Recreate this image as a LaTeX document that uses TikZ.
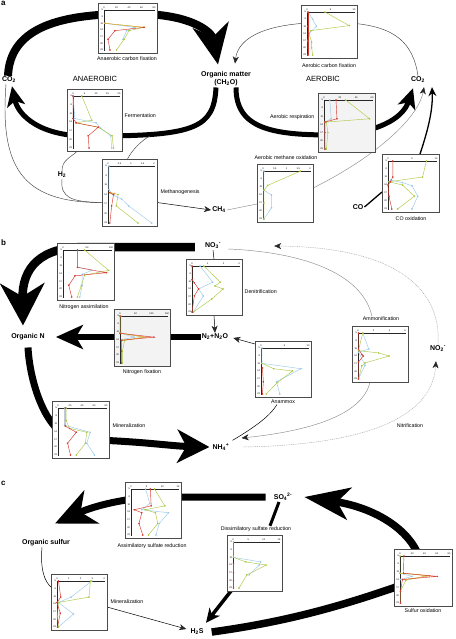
\documentclass[tikz,border=0pt]{standalone}
\usepackage{fontspec}
\setmainfont{Liberation Sans}
\usetikzlibrary{arrows.meta}
\pgfdeclarelayer{bg}
\pgfsetlayers{bg,main}
\definecolor{cred}{HTML}{D63A2F}
\definecolor{cblue}{HTML}{9ACBEA}
\definecolor{cgreen}{HTML}{ADC944}
\definecolor{corange}{HTML}{E9A23A}
\definecolor{cgrayfill}{HTML}{F3F3F3}
\newcommand\pltbegin[7]{%
  \node[pframe, fill=#6, minimum width=#4pt, minimum height=#5pt, anchor=north west] (#1) at (#2,#3) {};
  \begin{scope}[shift={(#2,#3)}]
  \pgfmathsetmacro\axw{#4-9}\pgfmathsetmacro\rowh{(#5-10)/6}
  \draw[axisline] (6,7) -- ({#4-3},7);
  \draw[axisline] (6,7) -- (6,{#5-3});
  \foreach \tkf/\tkl in {#7} {\draw[axisline] ({6+\tkf*\axw},7) -- ({6+\tkf*\axw},8);
    \node[tickl] at ({6+\tkf*\axw},4.3) {\tkl};}
  \foreach \dd [count=\ii from 0] in {5,8,11,14,17,20,23} {
    \node[tickl, anchor=east] at (5.2,{7+\ii*\rowh}) {\dd};
    \draw[axisline] (6,{7+\ii*\rowh}) -- (7,{7+\ii*\rowh});}
  \begin{scope}[shift={(6,7)}, x={(\axw pt,0pt)}, y={(0pt,-\rowh pt)}]
}
\newcommand\pltend{\end{scope}\end{scope}}
\newcommand\pltser[2]{\draw[#1] plot coordinates {#2};}
\begin{document}
\begin{tikzpicture}[x=1pt,y=-1pt,
  lab/.style={font=\fontsize{7}{8}\selectfont\bfseries, inner sep=1pt, align=center},
  biglab/.style={font=\fontsize{7.5}{8.5}\selectfont, inner sep=1pt},
  panel/.style={font=\fontsize{8}{9}\selectfont\bfseries, inner sep=0pt, anchor=north west},
  plab/.style={font=\fontsize{5.3}{6}\selectfont, inner sep=0.5pt},
  pframe/.style={draw=black!70, line width=0.85pt, inner sep=0pt, outer sep=0pt},
  axisline/.style={draw=black!85, line width=0.3pt},
  tickl/.style={font=\fontsize{2.4}{2.6}\selectfont, inner sep=0pt},
  sr/.style={draw=cred, line width=0.45pt, mark=*, mark size=0.55pt, mark options={fill=cred, draw=cred}},
  sb/.style={draw=cblue, line width=0.45pt, mark=*, mark size=0.55pt, mark options={fill=cblue, draw=cblue}},
  sg/.style={draw=cgreen, line width=0.45pt, mark=*, mark size=0.55pt, mark options={fill=cgreen, draw=cgreen}},
  so/.style={draw=corange, line width=0.45pt, mark=*, mark size=0.55pt, mark options={fill=corange, draw=corange}},
  hugeA/.style={-{Stealth[length=40pt,width=36pt,inset=12pt]}},
  bigA/.style={-{Stealth[length=32pt,width=33pt,inset=9pt]}},
  nfixA/.style={-{Stealth[length=27pt,width=24pt,inset=7pt]}},
  medA/.style={-{Stealth[length=20pt,width=18pt,inset=5pt]}},
  smA/.style={-{Stealth[length=7pt,width=6pt,inset=2pt,color=black!85]}},
  blackthin/.style={draw=black, line width=0.5pt},
  thinline/.style={draw=black!75, line width=0.45pt},
  grayline/.style={draw=black!45, line width=0.45pt},
  dotline/.style={draw=black!35, line width=0.45pt, dash pattern=on 1pt off 0.8pt}]
\useasboundingbox (0,0) rectangle (455,639);

% ---------------- panel a ----------------
\node[panel] (pa) at (1,1) {a};
\node[lab] (co2L) at (9,80) {CO\textsubscript{2}};
\node[biglab] (anaer) at (95,79) {ANAEROBIC};
\node[lab] (om) at (226,79) {Organic matter\\(CH\textsubscript{2}O)};
\node[biglab] (aer) at (323,79) {AEROBIC};
\node[lab] (co2R) at (418,80) {CO\textsubscript{2}};
\node[lab] (h2) at (62,175) {H\textsubscript{2}};
\node[lab] (ch4) at (219,210) {CH\textsubscript{4}};
\node[lab] (co) at (358,207) {CO};

\pltbegin{acf}{98}{3}{59}{50}{white}{0/0,0.25/20,0.5/40,0.75/60,1/80}
 \pltser{sb}{(0.02,2) (0.62,2.6) (0.45,3.1) (0.38,4.4)}
 \pltser{sg}{(0.02,2) (0.8,2.6) (0.5,3.1) (0.4,4.4) (0.25,6)}
 \pltser{so}{(0.02,2) (0.8,2.6)}
 \pltser{sr}{(0.8,2.6) (0.22,3.1) (0.08,4.4) (0.12,6)}
\pltend
\node[plab] (acflab) at (127,59) {Anaerobic carbon fixation};

\pltbegin{acfA}{301}{5}{56}{53}{white}{0/0,0.5/5,1/10}
 \pltser{sb}{(0.02,0) (0.12,1) (0.2,2) (0.04,3) (0.02,4) (0.03,6)}
 \pltser{sg}{(0.38,0) (0.9,1.9) (0.08,2.6) (0.04,3) (0.1,4.2) (0.1,5) (0.12,6)}
 \pltser{sr}{(0.02,0) (0.02,2) (0.02,4) (0.02,6)}
\pltend
\node[plab] (acfAlab) at (329,66) {Aerobic carbon fixation};

\pltbegin{ferm}{67}{89}{55}{62}{white}{0/0,0.25/5,0.5/10,0.75/15,1/20}
 \pltser{sb}{(0,0) (0.04,2.6) (0.5,3.1) (0.6,3.7) (0.82,4.6) (0.84,6)}
 \pltser{sg}{(0.19,0) (0.41,2.8) (0.06,3.1) (0.55,3.6) (0.85,4.6) (0.88,6)}
 \pltser{sr}{(0,0) (0,2.6) (0.07,3.1) (0.55,3.6) (0.33,4.6) (0.35,6)}
\pltend
\node[plab, anchor=west] (fermlab) at (124,116) {Fermentation};

\pltbegin{meth}{102}{159}{55}{67}{white}{0/0,0.25/0.5,0.5/1,0.75/1.5,1/2}
 \pltser{sb}{(0.02,0) (0.02,2.5) (0.1,3) (0.3,3.5) (0.45,4.2) (0.95,6)}
 \pltser{sg}{(0.05,2.8) (0.22,3) (0.18,4.2) (0.65,6)}
 \pltser{so}{(0.05,2.8) (0.14,2.9)}
 \pltser{sr}{(0.03,2.8) (0.12,3) (0.08,4.2) (0.04,6)}
\pltend
\node[plab, anchor=west] (methlab) at (160,192) {Methanogenesis};

\pltbegin{resp}{318}{93}{57}{59}{cgrayfill}{0/0,0.33/20,0.67/40,1/60}
 \pltser{sb}{(0.12,0) (0.15,2.3) (0.02,2.7) (0.02,6)}
 \pltser{sg}{(0.45,0) (0.95,2.3) (0.05,2.7) (0.08,4) (0.05,6)}
 \pltser{sr}{(0.25,0) (0.27,2.3) (0.02,2.7) (0.02,4) (0.02,6)}
\pltend
\node[plab, anchor=east] (resplab) at (315,117) {Aerobic respiration};

\pltbegin{mox}{257}{164}{56}{58}{white}{0/0,0.25/0.5,0.5/1,0.75/1.5,1/2}
 \pltser{sb}{(0.02,0) (0.02,2.4) (0.18,3) (0.18,4.6) (0.02,6)}
 \pltser{sg}{(0.8,0) (0.1,1.8) (0.02,2.4) (0.02,4) (0.02,6)}
\pltend
\node[plab] (moxlab) at (286,158) {Aerobic methane oxidation};

\pltbegin{coox}{382}{154}{57}{58}{white}{0/0,0.5/5,1/10}
 \pltser{sb}{(0.05,2.4) (0.3,2.7) (0.5,3.1) (0.62,4.4) (0.5,6)}
 \pltser{sg}{(0.8,0) (0.72,2) (0.02,2.6) (0.3,3) (0.55,4.4) (0.2,6)}
 \pltser{sr}{(0.1,0) (0.1,2) (0.05,2.6) (0,3) (0.02,4.4) (0.08,6)}
\pltend
\node[plab] (cooxlab) at (411,219) {CO oxidation};

% ---------------- panel b ----------------
\node[panel] (pb) at (1,240) {b};
\node[lab] (no3) at (213,246) {NO\textsubscript{3}\textsuperscript{-}};
\node[lab] (orgN) at (28,337) {Organic N};
\node[lab] (n2) at (215,337) {N\textsubscript{2}+N\textsubscript{2}O};
\node[lab] (no2) at (438,349) {NO\textsubscript{2}\textsuperscript{-}};
\node[lab] (nh4) at (221,447) {NH\textsubscript{4}\textsuperscript{+}};

\pltbegin{nassim}{57}{243}{57}{57}{white}{0/0,0.5/50,1/100}
 \pltser{sb}{(0.3,0) (0.3,2.2) (0.6,2.6) (0.4,3.1) (0.4,4.5) (0.35,6)}
 \pltser{sg}{(0.45,0) (0.95,2.6) (0.45,3.2) (0.38,4.6) (0.3,6)}
 \pltser{sr}{(0.3,0) (0.3,2.2) (0.9,2.9) (0.25,3.3) (0.12,4.5) (0.18,6)}
\pltend
\node[plab] (nassimlab) at (84,307) {Nitrogen assimilation};

\pltbegin{denit}{186}{259}{56}{56}{white}{0/0,0.33/1,0.67/2,1/3}
 \pltser{sb}{(0.17,0) (0.44,2.1) (0.14,3) (0.24,3.9) (0.03,6)}
 \pltser{sg}{(0.25,0) (0.6,2.1) (0.49,2.6) (0.66,3) (0.42,4.3) (0.03,6)}
 \pltser{sr}{(0,0) (0,1.8) (0.05,2.2) (0.14,3) (0.05,3.9) (0,6)}
\pltend
\node[plab, anchor=west] (denitlab) at (244,292) {Denitrification};

\pltbegin{nfix}{114}{309}{56}{57}{cgrayfill}{0/0,0.33/50,0.67/100,1/150}
 \pltser{sb}{(0.02,2.2) (0.3,2.7) (0.05,3)}
 \pltser{sg}{(0.02,0) (0.02,2.2) (0.5,2.7) (0.1,3.1) (0.05,4.5) (0.05,6)}
 \pltser{so}{(0,2.2) (0.55,2.7) (0.05,3.1)}
 \pltser{sr}{(0,0) (0,2.2) (0.72,2.7) (0.03,3.1) (0.03,4.5) (0.03,6)}
\pltend
\node[plab] (nfixlab) at (142,372) {Nitrogen fixation};

\pltbegin{anam}{255}{341}{56}{56}{white}{0/0,0.5/5,1/10}
 \pltser{sb}{(0.02,0) (0.02,2) (0.85,2.7) (0.33,4.4) (0.4,6)}
 \pltser{sg}{(0.02,2) (0.27,2.7) (0.67,3) (0.35,4.5) (0.11,6)}
 \pltser{sr}{(0.03,2.6) (0.05,4.4) (0.03,6)}
\pltend
\node[plab] (anamlab) at (283,402) {Anammox};

\pltbegin{amm}{352}{326}{56}{56}{white}{0/0,0.33/2,0.67/4,1/6}
 \pltser{sb}{(0.1,0) (0.23,2.1) (0.01,2.5) (0.15,4.2) (0.01,6)}
 \pltser{sg}{(0.1,0) (0.01,2.3) (0.44,2.6) (0.66,3) (0.15,3.9) (0.08,4.3) (0.01,6)}
 \pltser{sr}{(0.01,0) (0.01,2.1) (0.08,2.8) (0.11,3) (0.01,3.8) (0.01,6)}
\pltend
\node[plab] (amlab) at (381,319) {Ammonification};

\pltbegin{nmin}{52}{401}{57}{57}{white}{0/0,0.25/20,0.5/40,0.75/60,1/80}
 \pltser{sb}{(0.14,0) (0.14,2.2) (0.67,3.1) (0.6,4.5) (0.76,6)}
 \pltser{sg}{(0.17,0) (0.17,1.6) (0.24,2.6) (0.6,3.1) (0.57,4.5) (0.38,6)}
 \pltser{sr}{(0.15,0) (0.15,2.3) (0.38,3.1) (0.2,4.5) (0.26,6)}
\pltend
\node[plab, anchor=west] (nminlab) at (112,426) {Mineralization};
\node[plab] (nitrlab) at (410,426) {Nitrification};

% ---------------- panel c ----------------
\node[panel] (pc) at (1,481) {c};
\node[lab] (so4) at (283,497) {SO\textsubscript{4}\textsuperscript{2-}};
\node[lab] (orgS) at (46,543) {Organic sulfur};
\node[lab] (h2s) at (197,632) {H\textsubscript{2}S};

\pltbegin{asr}{125}{482}{56}{56}{white}{0/0,0.33/5,0.67/10,1/15}
 \pltser{sb}{(0.31,0) (0.4,1.9) (0.23,2.7) (0.8,3.1) (0.6,4.5) (0.53,6)}
 \pltser{sg}{(0.5,0) (0.72,2.2) (0.3,2.7) (0.52,3.1) (0.57,4.5) (0.37,6)}
 \pltser{sr}{(0.41,0) (0.43,2.2) (0.07,2.7) (0.23,3.1) (0.17,4.5) (0.25,6)}
\pltend
\node[plab] (asrlab) at (152,546) {Assimilatory sulfate reduction};

\pltbegin{dsr}{227}{535}{55}{56}{white}{0/0,0.33/5,0.67/10,1/15}
 \pltser{sb}{(0.01,2) (0.6,2.6) (0.57,3) (0.35,4.3)}
 \pltser{sg}{(0.01,0) (0.01,2) (0.28,2.6) (0.72,3) (0.3,4.3) (0.13,6)}
 \pltser{sr}{(0.01,2.8) (0.01,4) (0.01,5) (0.01,6)}
\pltend
\node[plab] (dsrlab) at (256,529) {Dissimilatory sulfate reduction};

\pltbegin{smin}{51}{574}{56}{56}{white}{0/0,0.25/1,0.5/2,0.75/3,1/4}
 \pltser{sb}{(0.74,0) (0.3,2.1) (0.03,2.8) (0.35,4.3) (0.03,6)}
 \pltser{sg}{(0.71,0) (0.68,2.1) (0.03,2.8) (0.01,4.6) (0.03,6)}
 \pltser{sr}{(0.03,0) (0.08,2.1) (0,2.8) (0.07,4.2) (0.01,6)}
\pltend
\node[plab, anchor=west] (sminlab) at (110,602) {Mineralization};

\pltbegin{sox}{394}{549}{58}{57}{white}{0/0,0.25/20,0.5/40,0.75/60,1/80}
 \pltser{sb}{(0,2.2) (0.25,2.6) (0.01,3)}
 \pltser{sg}{(0,0) (0,2.2) (0.56,2.5) (0.12,3.1) (0.01,4.5) (0.01,6)}
 \pltser{so}{(0.07,2.2) (0.6,2.55) (0.1,3)}
 \pltser{sr}{(0.08,0) (0.07,2.2) (0.76,2.6) (0.05,3) (0.01,4.5) (0.01,6)}
\pltend
\node[plab] (soxlab) at (423,611) {Sulfur oxidation};

% ---------------- connectors ----------------
\begin{pgfonlayer}{bg}
\coordinate (fjoin) at (150,136);
% panel a
\draw[line width=8pt, hugeA] ([xshift=-1pt]co2L.north) .. controls (10,30) and (55,14) .. ([yshift=-11pt]acf.north) .. controls (190,12) and (212,32) .. ([xshift=-8pt,yshift=6pt]om.north);
\draw[line width=5pt, medA] ([xshift=-10pt]om.south) .. controls (214,128) and (195,136) .. ([yshift=-16pt]ferm.center) .. controls (40,138) and (18,115) .. ([xshift=3pt,yshift=-2pt]co2L.south);
\draw[line width=5pt, medA] ([xshift=10pt]om.south) .. controls (236,128) and (270,137) .. ([yshift=-12pt]resp.center) .. controls (392,128) and (405,112) .. ([xshift=-5pt,yshift=-4pt]co2R.south);
\draw[thinline, smA] (co2R.north) .. controls (412,35) and (385,22) .. ([yshift=9pt]acfA.center) .. controls (265,22) and (238,38) .. ([xshift=9pt,yshift=7pt]om.north);
\draw[thinline] (fjoin) .. controls (142,140) and (132,150) .. ([xshift=-2pt]meth.north);
\draw[thinline] ([xshift=-17pt]ferm.south) .. controls (70,158) and (62,160) .. (h2.north);
\draw[thinline] (h2.south) .. controls (60,198) and (72,202) .. ([yshift=-10pt]meth.west);
\draw[thinline] ([xshift=-3pt]co2L.south) .. controls (0,165) and (20,203) .. ([yshift=-10pt]meth.west);
\draw[blackthin, smA] ([yshift=-10pt]meth.east) -- (ch4.west);
\draw[grayline] (ch4.east) -- ([yshift=-11pt]mox.west);
\draw[grayline, smA] ([yshift=5pt]mox.east) .. controls (370,160) and (418,120) .. ([xshift=6pt,yshift=-3pt]co2R.south);
\draw[line width=1.3pt] (co.east) -- ([yshift=-9pt]coox.west);
\draw[line width=1.3pt, -{Stealth[length=9pt,width=8pt,inset=3pt]}] ([xshift=9.5pt]coox.north) .. controls (428,130) and (433,110) .. ([xshift=14pt,yshift=-3pt]co2R.south);
% panel b
\draw[line width=8.5pt, -{Stealth[length=42pt,width=44pt,inset=13pt]}] ([xshift=-9pt,yshift=-1pt]no3.west) -- ([yshift=-4pt]nassim.north) .. controls (40,247) and (22,268) .. ([xshift=-5pt,yshift=7pt]orgN.north);
\draw[blackthin] (no3.south) -- (denit.north);
\draw[blackthin, smA] (denit.south) -- (n2.north);
\draw[line width=5.5pt, nfixA] (n2.west) -- ([xshift=10pt]orgN.east);
\draw[line width=7pt, bigA] ([yshift=-6pt]orgN.south) .. controls (30,385) and (48,440) .. ([yshift=-10pt]nmin.center) .. controls (140,441) and (170,446) .. ([xshift=-2pt]nh4.west);
\draw[blackthin] ([xshift=2pt,yshift=2pt]nh4.north east) .. controls (255,427) and (270,416) .. ([xshift=-6pt]anamlab.south);
\draw[blackthin, smA] ([yshift=-3pt]anam.north west) -- ([xshift=4pt,yshift=-1pt]n2.east);
\draw[grayline] ([xshift=6pt,yshift=-3pt]no3.east) .. controls (300,252) and (362,272) .. ([xshift=-9pt]amlab.north);
\draw[grayline, smA] ([xshift=-10pt]amm.south) .. controls (362,418) and (300,432) .. ([xshift=11pt,yshift=9pt]nh4.east);
\draw[dotline, smA] ([xshift=12pt]nh4.east) .. controls (360,445) and (432,420) .. ([xshift=-2pt,yshift=-8pt]no2.south);
\draw[dotline, smA] (no2.north) .. controls (442,285) and (390,247) .. ([xshift=52pt]no3.east);
% panel c
\draw[line width=7pt, hugeA] ([xshift=-7pt]so4.west) -- ([yshift=13pt]asr.center) .. controls (110,500) and (85,510) .. ([xshift=9pt,yshift=15pt]orgS.north);
\draw[line width=3pt] ([xshift=-4pt]so4.south) -- ([xshift=14pt]dsrlab.north);
\draw[line width=3.5pt, -{Stealth[length=14pt,width=13pt,inset=4pt]}] ([xshift=4pt]dsr.south west) -- ([xshift=9pt,yshift=5pt]h2s.north);
\draw[blackthin] ([xshift=-4pt]orgS.south) .. controls (40,570) and (45,582) .. ([yshift=-13pt]smin.north west);
\draw[blackthin, smA] ([yshift=-33pt]smin.north east) -- ([xshift=-3pt,yshift=3pt]h2s.west);
\draw[line width=7.5pt, -{Stealth[length=45pt,width=32pt,inset=12pt]}] ([xshift=7pt]h2s.east) .. controls (300,620) and (360,600) .. (sox.center) .. controls (423,535) and (378,508) .. ([xshift=11pt]so4.east);
\end{pgfonlayer}
\end{tikzpicture}
\end{document}
